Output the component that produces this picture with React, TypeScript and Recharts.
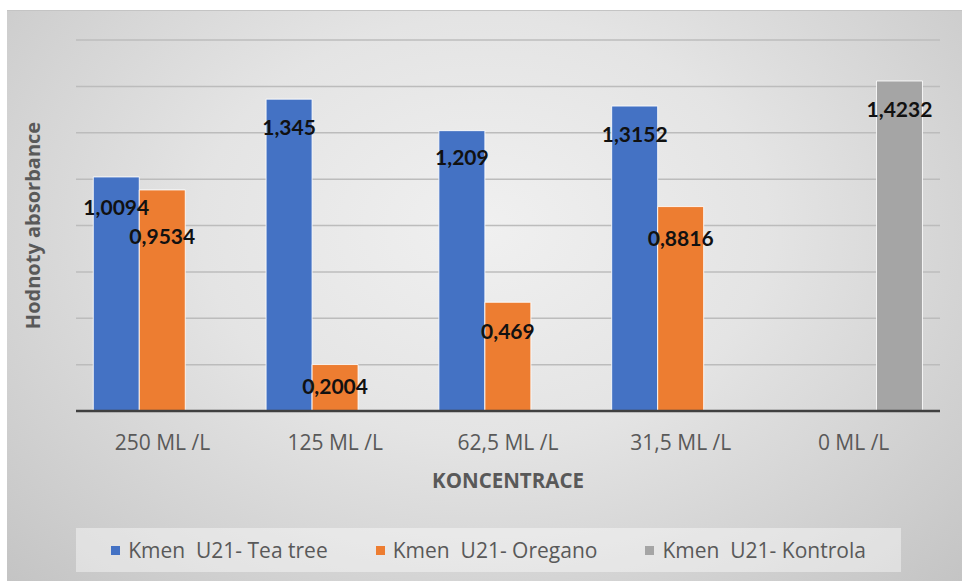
import React from 'react';
import { BarChart, Bar, XAxis, YAxis, Legend, LabelList, Label, CartesianGrid } from 'recharts';

const categories = ['250 ML /L', '125 ML /L', '62,5 ML /L', '31,5 ML /L', '0 ML /L'];
const teaTree = [1.0094, 1.345, 1.209, 1.3152, null];
const oregano = [0.9534, 0.2004, 0.469, 0.8816, null];
const kontrola = [null, null, null, null, 1.4232];
const seriesNames = ['Kmen  U21- Tea tree', 'Kmen  U21- Oregano', 'Kmen  U21- Kontrola'];
const seriesColors = ['#4472C4', '#ED7D31', '#A5A5A5'];
const yTicks = [0, 0.2, 0.4, 0.6, 0.8, 1.0, 1.2, 1.4, 1.6];

// label placement tweaks (style only)
const labelBaseOffset = 29;
const labelNudges = [
  [2, 0, -2, 0, 0],
  [18, -7, 0, 3, 0],
  [0, 0, 0, 0, 0],
];

const data = categories.map((c, i) => ({
  name: c,
  tea: teaTree[i],
  oregano: oregano[i],
  kontrola: kontrola[i],
}));

const FONT = '"Open Sans", Lato, sans-serif';
const LABEL_FONT = 'Lato, "Open Sans", sans-serif';

const fmt = (v: number) => String(v).replace('.', ',');

const makeLabel = (s: number) => (props: any) => {
  const { x, y, width, value, index } = props;
  if (value === null || value === undefined) return null;
  return (
    <text
      x={Number(x) + Number(width) / 2}
      y={Number(y) + labelBaseOffset + labelNudges[s][index]}
      dy="0.35em"
      textAnchor="middle"
      fontFamily={LABEL_FONT}
      fontWeight={700}
      fontSize={21}
      fill="#111"
    >
      {fmt(value)}
    </text>
  );
};

const XTick = (props: any) => {
  const { x, y, payload } = props;
  return (
    <text x={x} y={Number(y) + 32} dy="0.35em" textAnchor="middle" fontFamily={FONT} fontSize={21} fill="#595959">
      {payload.value}
    </text>
  );
};

const LegendContent = () => (
  <div
    style={{
      width: '100%',
      height: '100%',
      background: 'rgba(255,255,255,0.42)',
      display: 'flex',
      alignItems: 'center',
      justifyContent: 'center',
      gap: 48,
      fontFamily: FONT,
      fontSize: 21,
      color: '#595959',
      whiteSpace: 'pre',
    }}
  >
    {seriesNames.map((n, i) => (
      <div key={n} style={{ display: 'flex', alignItems: 'center' }}>
        <span style={{ display: 'inline-block', width: 9, height: 9, background: seriesColors[i], marginRight: 8 }} />
        <span>{n}</span>
      </div>
    ))}
  </div>
);

export default function App() {
  return (
    <div
      style={{
        position: 'absolute',
        left: 7,
        top: 10,
        width: 955,
        height: 571,
        background: 'radial-gradient(ellipse farthest-corner at 50% 38%, #f0f0f0 0%, #e4e4e4 42%, #c4c4c4 100%)',
        borderTop: '1px solid #c4c4c4',
        boxSizing: 'border-box',
      }}
    >
      <BarChart
        width={955}
        height={570}
        data={data}
        margin={{ top: 29, right: 22, left: 0, bottom: 0 }}
        barCategoryGap="10%"
        barGap={0}
      >
        <CartesianGrid horizontal vertical={false} stroke="#bcbcbc" strokeWidth={1.5} />
        <YAxis
          domain={[0, 1.6]}
          ticks={yTicks}
          interval={0}
          width={69}
          tick={{ fill: 'transparent', fontSize: 10 }}
          axisLine={false}
          tickLine={false}
        >
          <Label
            content={(p: any) => {
              const vb = p.viewBox || {};
              const cx = 26;
              const cy = vb.y + vb.height / 2;
              return (
                <text
                  x={cx}
                  y={cy}
                  transform={`rotate(-90 ${cx} ${cy})`}
                  textAnchor="middle"
                  dy="0.35em"
                  fontFamily={FONT}
                  fontWeight={700}
                  fontSize={20}
                  fill="#595959"
                >
                  Hodnoty absorbance
                </text>
              );
            }}
          />
        </YAxis>
        <XAxis
          dataKey="name"
          height={170}
          tickSize={0}
          tickMargin={0}
          tickLine={false}
          axisLine={{ stroke: '#404040', strokeWidth: 2.5 }}
          tick={<XTick />}
          interval={0}
        >
          <Label
            content={(p: any) => {
              const vb = p.viewBox || {};
              return (
                <text
                  x={vb.x + vb.width / 2}
                  y={vb.y + 70}
                  dy="0.35em"
                  textAnchor="middle"
                  fontFamily={FONT}
                  fontWeight={700}
                  fontSize={20.5}
                  fill="#595959"
                >
                  KONCENTRACE
                </text>
              );
            }}
          />
        </XAxis>
        <Legend
          layout="horizontal"
          verticalAlign="middle"
          align="center"
          content={<LegendContent />}
          wrapperStyle={{ left: 69, top: 517, width: 825, height: 44 }}
        />
        <Bar dataKey="tea" name={seriesNames[0]} fill={seriesColors[0]} stroke="rgba(255,255,255,0.85)" strokeWidth={1} isAnimationActive={false}>
          <LabelList dataKey="tea" content={makeLabel(0)} />
        </Bar>
        <Bar dataKey="oregano" name={seriesNames[1]} fill={seriesColors[1]} stroke="rgba(255,255,255,0.85)" strokeWidth={1} isAnimationActive={false}>
          <LabelList dataKey="oregano" content={makeLabel(1)} />
        </Bar>
        <Bar dataKey="kontrola" name={seriesNames[2]} fill={seriesColors[2]} stroke="rgba(255,255,255,0.85)" strokeWidth={1} isAnimationActive={false}>
          <LabelList dataKey="kontrola" content={makeLabel(2)} />
        </Bar>
      </BarChart>
    </div>
  );
}
